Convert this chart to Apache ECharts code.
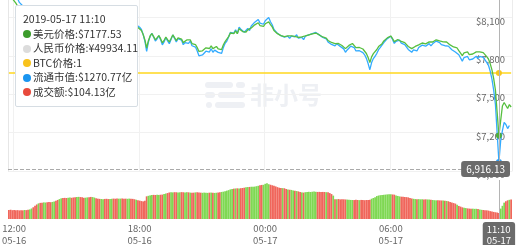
<!DOCTYPE html>
<html>
<head>
<meta charset="utf-8">
<script src="https://cdn.jsdelivr.net/npm/echarts@6/dist/echarts.min.js"></script>
<style>
html,body{margin:0;padding:0;background:#fff;}
#c{width:520px;height:245px;}
</style>
</head>
<body>
<div id="c"></div>
<script>
// ---- data (5-minute samples, 2019-05-16 11:45 .. 2019-05-17 11:45) ----
const usdPrice = [
8262,8255,8247,8235,8211,8188,8164,
8152,8141,8147,8133,8120,8126,8138,8129,8115,8104,
8111,8097,8085,8092,8103,8096,8082,8071,8079,8088,
8076,8064,8070,8081,8074,8062,8055,8063,8072,8066,
8053,8047,8058,8069,8061,8050,8044,8052,8060,8049,
8041,8048,8057,8051,8039,8033,8042,8050,8045,8036,
8029,8037,8046,8040,8031,8024,8033,8041,8035,8027,
8020,8028,8036,8030,8022,8017,8025,
8021,8010,7997,7966,7924,7861,7918,7955,7973,7950,
7925,7939,7958,7934,7901,7920,7947,7926,7909,7935,
7963,7942,7919,7940,7943,7931,7903,7916,7924,7911,
7925,7896,7885,7888,7864,7834,7822,7839,7841,7862,
7865,7857,7878,7856,7869,7873,7855,7846,7849,7886,
7911,7925,7950,7978,7981,7974,7995,7972,8011,7998,
7989,7979,7986,8003,7990,8018,8021,8042,8044,8058,
8036,8025,8029,8050,8053,8065,8044,8026,7997,7994,
7973,7971,7958,7963,7950,7947,7955,7942,7956,7959,
7951,7964,7943,7939,7948,7934,7955,7959,7963,7966,
7971,7974,7978,7967,7963,7958,7947,7935,7939,7920,
7916,7904,7909,7895,7908,7896,7892,7880,7877,7856,
7870,7881,7893,7896,7885,7864,7861,7865,7857,7853,
7840,7818,7786,7748,7792,7817,7831,7849,7872,7886,
7895,7916,7920,7940,7943,7955,7935,7911,7924,7927,
7931,7912,7908,7903,7892,7873,7869,7856,7870,7873,
7864,7885,7888,7900,7896,7893,7904,7909,7895,7908,
7912,7925,7919,7916,7903,7909,7896,7908,7894,7885,
7872,7869,7857,7861,7840,7830,7801,7823,7834,7830,
7809,7806,7814,7818,7831,7817,7830,7838,7825,7814,
7793,7775,7739,7690,7621,7533,7355,7177.53,7293,7408,
7435,7424,7388,7419,7400
];
const marketCap = [
1462.8,1461.5,1460.1,1458.0,1453.8,1449.7,1445.4,
1443.3,1441.4,1442.4,1439.9,1437.6,1438.7,1440.8,1439.2,1436.8,1434.8,
1436.1,1433.6,1431.4,1432.7,1434.6,1433.4,1430.9,1429.0,1430.4,1432.0,
1429.9,1427.7,1428.8,1430.7,1429.5,1427.4,1426.1,1427.6,1429.1,1428.1,
1425.8,1424.7,1426.7,1428.6,1427.2,1425.3,1424.2,1425.6,1427.0,1425.1,
1423.7,1424.9,1426.5,1425.4,1423.3,1422.2,1423.8,1425.3,1424.4,1422.8,
1421.5,1422.9,1424.5,1423.5,1421.9,1420.6,1422.2,1423.7,1422.6,1421.2,
1419.9,1421.4,1422.8,1421.7,1420.3,1419.4,1420.8,
1420.1,1418.2,1415.9,1410.4,1402.9,1391.8,1401.9,1408.4,1411.6,1407.5,
1403.1,1405.6,1409.0,1404.7,1398.9,1402.2,1407.0,1403.3,1400.3,1404.9,
1409.9,1406.1,1402.1,1405.8,1406.3,1404.2,1399.2,1401.5,1402.9,1400.6,
1403.1,1398.0,1396.0,1396.6,1392.3,1387.0,1384.9,1387.9,1388.3,1392.0,
1392.5,1391.1,1394.8,1390.9,1393.2,1393.9,1390.7,1389.1,1389.7,1396.2,
1400.6,1403.1,1407.5,1412.5,1413.0,1411.8,1415.5,1411.4,1418.3,1416.0,
1414.5,1412.7,1413.9,1416.9,1414.6,1419.6,1420.1,1423.8,1424.2,1426.7,
1422.8,1420.8,1421.5,1425.3,1425.8,1429.0,1424.2,1421.0,1415.9,1415.3,
1411.6,1411.3,1409.0,1409.9,1407.5,1407.0,1408.4,1406.1,1408.6,1409.1,
1407.7,1410.0,1406.3,1405.6,1407.2,1404.7,1408.4,1409.1,1409.9,1410.4,
1411.3,1411.8,1412.5,1410.6,1409.9,1409.0,1407.0,1404.9,1405.6,1402.2,
1401.5,1399.4,1400.3,1397.8,1400.1,1398.0,1397.3,1395.2,1394.6,1390.9,
1393.4,1395.3,1397.5,1398.0,1396.0,1392.3,1391.8,1392.5,1391.1,1390.4,
1388.1,1384.2,1378.5,1371.8,1379.6,1384.0,1386.5,1389.7,1393.7,1396.2,
1397.8,1401.5,1402.2,1405.8,1406.3,1408.4,1404.9,1400.6,1402.9,1403.5,
1404.2,1400.8,1400.1,1399.2,1397.3,1393.9,1393.2,1390.9,1393.4,1393.9,
1392.3,1396.0,1396.6,1398.7,1398.0,1397.5,1399.4,1400.3,1397.8,1400.1,
1400.8,1403.1,1402.1,1401.5,1399.2,1400.3,1398.0,1400.1,1397.6,1396.0,
1393.7,1393.2,1391.1,1391.8,1388.1,1386.3,1381.2,1385.1,1387.0,1386.3,
1382.6,1382.1,1383.5,1384.2,1386.5,1384.0,1386.3,1387.7,1385.4,1383.5,
1379.8,1376.6,1370.2,1361.5,1349.3,1333.7,1302.2,1270.77,1293.9,1305.1,
1314.1,1311.9,1307.4,1310.8,1309.6
];
const btcPrice = [
1,1,1,1,1,1,1,1,1,1, 1,1,1,1,1,1,1,1,1,1, 1,1,1,1,1,1,1,1,1,1,
1,1,1,1,1,1,1,1,1,1, 1,1,1,1,1,1,1,1,1,1, 1,1,1,1,1,1,1,1,1,1,
1,1,1,1,1,1,1,1,1,1, 1,1,1,1,1,1,1,1,1,1, 1,1,1,1,1,1,1,1,1,1,
1,1,1,1,1,1,1,1,1,1, 1,1,1,1,1,1,1,1,1,1, 1,1,1,1,1,1,1,1,1,1,
1,1,1,1,1,1,1,1,1,1, 1,1,1,1,1,1,1,1,1,1, 1,1,1,1,1,1,1,1,1,1,
1,1,1,1,1,1,1,1,1,1, 1,1,1,1,1,1,1,1,1,1, 1,1,1,1,1,1,1,1,1,1,
1,1,1,1,1,1,1,1,1,1, 1,1,1,1,1,1,1,1,1,1, 1,1,1,1,1,1,1,1,1,1,
1,1,1,1,1,1,1,1,1,1, 1,1,1,1,1,1,1,1,1,1, 1,1,1,1,1,1,1,1,1,1,
1,1,1,1,1,1,1,1,1,1, 1,1,1,1,1,1,1,1,1,1, 1,1,1,1,1,1,1,1,1,1,
1,1,1,1,1,1,1,1,1,1, 1,1,1,1,1,1,1,1,1
];
const volume = [
108.6,108.9,108.2,108.4,108.1,108.3,107.9,108.2,108.0,108.5,108.3,108.9,109.4,
110.8,112.6,114.9,116.8,118.4,119.2,
119.5,119.9,119.7,120.1,120.4,120.2,120.6,121.3,
122.5,123.6,124.9,
126.0,126.4,126.7,126.5,126.9,127.1,126.8,127.3,127.6,
128.0,128.2,127.9,127.5,126.8,127.0,127.4,127.8,128.1,127.9,127.2,
126.1,125.5,125.2,125.0,124.8,125.1,125.3,124.9,125.0,
125.3,125.6,125.4,125.7,125.5,125.6,125.8,125.4,125.5,125.3,125.6,125.4,125.2,124.6,
123.9,123.2,122.6,121.9,121.4,122.3,
129.0,
129.8,130.4,130.9,131.2,131.0,131.3,131.1,131.4,131.6,
132.6,133.2,133.9,
134.8,135.0,134.9,135.2,135.1,134.8,135.0,135.3,135.1,134.9,135.2,135.0,134.6,134.2,134.5,134.9,135.1,
134.7,134.5,134.3,134.6,134.4,134.2,134.5,134.6,134.3,134.1,134.4,134.7,
135.3,135.6,136.0,136.8,137.5,138.3,
139.4,140.0,140.5,140.8,141.0,140.9,141.2,141.5,
142.0,142.6,142.9,143.1,143.4,143.2,
143.6,144.2,144.8,145.6,146.1,146.3,
147.8,148.5,
147.2,146.4,
145.6,145.0,
143.9,142.8,141.9,141.6,141.3,141.1,
140.0,139.4,138.9,138.6,
137.8,137.2,136.9,136.4,
135.4,134.9,134.6,
135.2,135.6,135.8,135.5,135.9,136.1,135.8,135.6,135.7,135.4,135.6,135.5,135.2,135.0,
133.9,132.4,130.1,
124.8,124.6,124.9,124.4,124.7,124.5,124.3,124.1,
123.8,123.6,123.5,123.4,123.7,123.5,123.3,123.6,123.4,123.2,123.5,123.6,123.8,
125.4,126.5,127.6,
129.4,130.2,130.7,131.0,131.3,131.6,131.9,
132.3,132.1,131.8,131.5,
130.4,129.6,128.9,128.5,128.3,128.0,127.8,127.4,
126.6,125.8,125.3,124.9,124.7,124.8,124.5,124.6,124.4,124.5,124.3,124.2,124.0,
123.5,123.2,123.0,123.1,122.9,122.8,122.6,122.4,122.1,121.6,
120.4,119.7,118.9,118.1,
116.4,114.6,113.6,
112.5,111.9,111.4,110.9,110.6,110.4,110.5,110.2,110.3,110.0,
109.2,108.8,108.5,108.3,108.0,107.6,
106.8,106.2,105.6,105.1,104.7,
104.13,
110.6,114.8,119.5,121.6,123.0,123.8,124.2
];
const cnyPriceAtTip = 49934.11;
const tipTime = '2019-05-17 11:10';
const pointerPrice = 6916.13;
const priceTicks = { min: 6900, max: 8400, interval: 300 };

// ---- categories (time stamps) ----
const categories = [];
for (let i = 0; i < usdPrice.length; i++) {
  const t = 11 * 60 + 45 + 5 * i;
  const day = 16 + Math.floor(t / 1440);
  const m = t % 1440;
  const hh = String(Math.floor(m / 60)).padStart(2, '0');
  const mm = String(m % 60).padStart(2, '0');
  categories.push('2019-05-' + day + ' ' + hh + ':' + mm);
}
const tipIndex = categories.indexOf(tipTime);

const C = {
  green: '#4fae3a', blue: '#2f9cf2', yellow: '#f7c51d',
  barUp: '#7fd853', barDown: '#f0665b',
  dotGreen: '#3c9c2c', dotGray: '#dcdcdc', dotYellow: '#f8c21c', dotBlue: '#1a95f0', dotRed: '#e84a3c'
};
const FONT = '"Noto Sans CJK SC", "Noto Sans", sans-serif';

function showTick(index, value) {
  const hh = +value.slice(11, 13);
  return value.slice(14, 16) === '00' && hh % 6 === 0;
}
function fmtMoney(v) {
  return Number(v).toLocaleString('en-US', { minimumFractionDigits: 2, maximumFractionDigits: 2 });
}
function dot(c) {
  return '<span style="display:inline-block;width:8px;height:8px;border-radius:4px;background:' + c +
    ';margin-right:2px;vertical-align:-0.5px"></span>';
}

const chart = echarts.init(document.getElementById('c'), null, { renderer: 'canvas' });
chart.setOption({
  animation: false,
  backgroundColor: '#fff',
  textStyle: { fontFamily: FONT },
  graphic: [{
    type: 'group', left: 205, top: 82, z: -10, silent: true,
    children: [
      { type: 'rect', shape: { x: 2, y: 0, width: 28, height: 6, r: 3 }, style: { fill: '#eef0f4' } },
      { type: 'rect', shape: { x: 33, y: 0, width: 9, height: 6, r: 3 }, style: { fill: '#eef0f4' } },
      { type: 'rect', shape: { x: 2, y: 10, width: 10, height: 6, r: 3 }, style: { fill: '#eef0f4' } },
      { type: 'rect', shape: { x: 15, y: 10, width: 27, height: 6, r: 3 }, style: { fill: '#eef0f4' } },
      { type: 'rect', shape: { x: 3, y: 20, width: 6, height: 6, r: 3 }, style: { fill: '#eef0f4' } },
      { type: 'rect', shape: { x: 12, y: 20, width: 30, height: 6, r: 3 }, style: { fill: '#eef0f4' } },
      { type: 'text', x: 47, y: 1, style: { text: '非小号', font: 'bold 24px "Noto Sans CJK SC"', fill: '#eef0f4' } }
    ]
  }],
  axisPointer: { link: [{ xAxisIndex: 'all' }] },
  tooltip: {
    trigger: 'axis',
    triggerOn: 'none',
    alwaysShowContent: true,
    transitionDuration: 0,
    position: [15, 5],
    backgroundColor: '#fff',
    borderColor: '#d6dde3',
    borderWidth: 1,
    padding: [6, 7],
    extraCssText: 'box-shadow:none;border-radius:2px;width:107px;',
    textStyle: { fontFamily: FONT, fontSize: 10.5, color: '#333' },
    axisPointer: { type: 'cross' },
    formatter: function () {
      const i = tipIndex;
      return '<div style="line-height:14.6px;font-size:10.5px;white-space:nowrap">' +
        categories[i] + '<br/>' +
        dot(C.dotGreen) + '美元价格:$' + usdPrice[i] + '<br/>' +
        dot(C.dotGray) + '人民币价格:¥' + cnyPriceAtTip + '<br/>' +
        dot(C.dotYellow) + 'BTC价格:' + btcPrice[i] + '<br/>' +
        dot(C.dotBlue) + '流通市值:$' + marketCap[i] + '亿<br/>' +
        dot(C.dotRed) + '成交额:$' + volume[i] + '亿' +
        '</div>';
    }
  },
  grid: [
    { left: 8, right: 8, top: -21, height: 192, outerBoundsMode: 'none', containLabel: false },
    { left: 8, right: 8, top: 180, height: 39, outerBoundsMode: 'none', containLabel: false }
  ],
  xAxis: [
    {
      type: 'category', gridIndex: 0, data: categories, boundaryGap: true,
      axisLine: { show: false }, axisTick: { show: false }, axisLabel: { show: false },
      splitLine: { show: true, interval: showTick, lineStyle: { color: '#f1f1f1' } },
      axisPointer: { label: { show: false }, lineStyle: { color: '#b4b4b4', type: 'solid', width: 1 } }
    },
    {
      type: 'category', gridIndex: 1, data: categories, boundaryGap: true,
      axisLine: { show: false }, axisTick: { show: false },
      axisLabel: {
        interval: showTick, color: '#666', fontSize: 9.5, lineHeight: 12, margin: 3, fontFamily: FONT,
        formatter: v => v.slice(11) + '\n' + v.slice(5, 10)
      },
      splitLine: { show: false },
      axisPointer: {
        lineStyle: { color: '#b4b4b4', type: 'solid', width: 1 },
        label: {
          show: true, backgroundColor: '#6b6b6b', color: '#fff', fontSize: 9.5, lineHeight: 11,
          padding: [2, 4], margin: 3, fontFamily: FONT,
          formatter: p => p.value.slice(11) + '\n' + p.value.slice(5, 10)
        }
      }
    }
  ],
  yAxis: [
    {
      type: 'value', gridIndex: 0, position: 'right',
      min: priceTicks.min, max: priceTicks.max, interval: priceTicks.interval,
      axisLine: { show: true, lineStyle: { color: '#ececec' } }, axisTick: { show: false },
      axisLabel: {
        inside: true, color: '#666', fontSize: 9.5, margin: 7, verticalAlign: 'top', lineHeight: 7,
        fontFamily: FONT, hideOverlap: false,
        formatter: v => '$' + v.toLocaleString('en-US')
      },
      splitLine: { lineStyle: { color: '#f1f1f1' } },
      axisPointer: {
        show: true,
        lineStyle: { color: '#aaa', type: 'dashed', width: 1 },
        label: {
          show: true, backgroundColor: '#6b6b6b', color: '#fff', fontSize: 10, padding: [3, 5], margin: 2,
          fontFamily: FONT, formatter: p => fmtMoney(p.value)
        }
      }
    },
    {
      type: 'value', gridIndex: 0, position: 'left', min: 0, max: 1.96,
      axisLine: { show: true, lineStyle: { color: '#e6e6e6' } }, axisTick: { show: false },
      axisLabel: { show: false }, splitLine: { show: false }, axisPointer: { show: false }
    },
    {
      type: 'value', gridIndex: 0, show: false, min: 1261, max: 1471,
      splitLine: { show: false }, axisPointer: { show: false }
    },
    {
      type: 'value', gridIndex: 1, show: false, min: 95, max: 153.5,
      splitLine: { show: false }, axisPointer: { show: false }
    }
  ],
  series: [
    {
      name: 'BTC价格', type: 'line', xAxisIndex: 0, yAxisIndex: 1, data: btcPrice,
      showSymbol: false, symbol: 'circle', symbolSize: 5, color: C.yellow, lineStyle: { width: 1.6, color: C.yellow }
    },
    {
      name: '流通市值', type: 'line', xAxisIndex: 0, yAxisIndex: 2, data: marketCap,
      showSymbol: false, symbol: 'circle', symbolSize: 4, color: C.blue, lineStyle: { width: 1.3, color: C.blue }
    },
    {
      name: '美元价格', type: 'line', xAxisIndex: 0, yAxisIndex: 0, data: usdPrice,
      showSymbol: false, symbol: 'circle', symbolSize: 4, color: C.green, lineStyle: { width: 1.3, color: C.green }
    },
    {
      name: '成交额', type: 'bar', xAxisIndex: 1, yAxisIndex: 3, data: volume,
      barCategoryGap: '0%', emphasis: { disabled: true },
      itemStyle: {
        color: p => (p.dataIndex > 0 && usdPrice[p.dataIndex] >= usdPrice[p.dataIndex - 1]) ? C.barUp : C.barDown
      }
    }
  ]
});

const pt = chart.convertToPixel({ xAxisIndex: 0, yAxisIndex: 0 }, [tipIndex, pointerPrice]);
chart.dispatchAction({ type: 'showTip', x: pt[0], y: pt[1] });
</script>
</body>
</html>
